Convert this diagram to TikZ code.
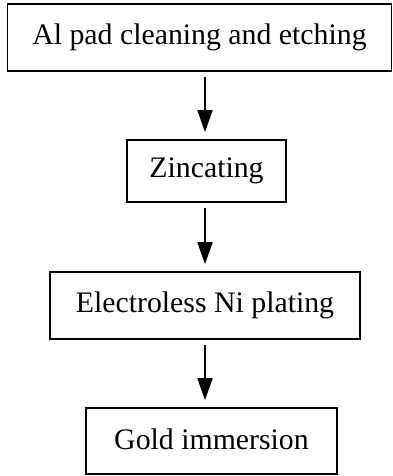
\documentclass[tikz,border=0pt]{standalone}
\usepackage{fontspec}
\setmainfont{Liberation Serif}
\usetikzlibrary{arrows.meta}
\begin{document}
\begin{tikzpicture}[x=1pt,y=1pt,
  stepbox/.style={draw,line width=1.6pt,rectangle,inner sep=0pt,
    font=\fontsize{29.8}{34}\selectfont},
  flow/.style={line width=1.6pt,-{Triangle[width=15pt,length=22pt]},
    shorten <=5pt,shorten >=7pt}]
  \useasboundingbox (0,0) rectangle (393,-476);
  \coordinate (ax) at (205,0);
  \node[stepbox,minimum width=384pt,minimum height=67pt] (b1) at (199.5,-37.5)
    {\raisebox{1pt}{Al pad cleaning and etching}\hspace{14pt}};
  \node[stepbox,minimum width=159pt,minimum height=62pt] (b2) at (206.5,-171)
    {\raisebox{3pt}{Zincating}};
  \node[stepbox,minimum width=310pt,minimum height=67pt] (b3) at (205,-305.5)
    {\raisebox{3pt}{Electroless Ni plating}};
  \node[stepbox,minimum width=251pt,minimum height=66pt] (b4) at (211.5,-441)
    {\raisebox{3pt}{Gold immersion}\hspace{17pt}};
  \draw[flow] (b1.south -| ax) -- (b2.north -| ax);
  \draw[flow] (b2.south -| ax) -- (b3.north -| ax);
  \draw[flow] (b3.south -| ax) -- (b4.north -| ax);
\end{tikzpicture}
\end{document}
